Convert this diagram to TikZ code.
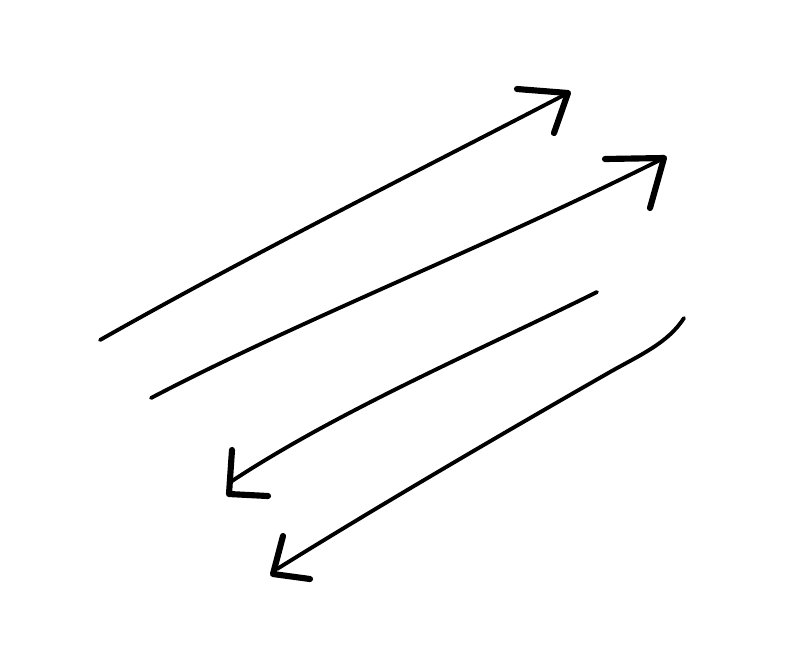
\documentclass[tikz,border=0pt]{standalone}
\usepackage{tikz}
\usetikzlibrary{calc}

\tikzset{
  stroke/.style={line width=2.9pt, line cap=round, line join=round},
  barb/.style={line width=4.6pt, line cap=round, line join=round},
}

\begin{document}
\begin{tikzpicture}[x=0.75pt,y=-0.75pt]
            \useasboundingbox (0,0) rectangle (802,662);

            % upper pair, pointing up-right
            \coordinate (a1s) at (100,340);
            \coordinate (a1e) at (568,93);
            \draw[stroke] (a1s) .. controls (250,255) and (420,170) .. (a1e);
            \draw[barb] (517,89) -- (a1e) -- (554,133);

            \coordinate (a2s) at (151,398);
            \coordinate (a2e) at (664,158);
            \draw[stroke] (a2s) .. controls (300,320) and (480,250) .. (a2e);
            \draw[barb] (605,159) -- (a2e) -- (650,208);

            % lower pair, pointing down-left
            \coordinate (a3s) at (597,292);
            \coordinate (a3e) at (232,481);
            \draw[stroke] (a3s) .. controls (480,350) and (340,410) .. (a3e);
            \draw[barb] (232,450) -- (229,494) -- (268,496);

            \coordinate (a4s) at (684,318);
            \coordinate (a4e) at (277,569);
            \draw[stroke] (a4s) .. controls (668,343) and (640,355) .. (610,372)
                .. controls (500,435) and (380,505) .. (a4e);
            \draw[barb] (283,536) -- (273,574) -- (310,579);
        \end{tikzpicture}
\end{document}
